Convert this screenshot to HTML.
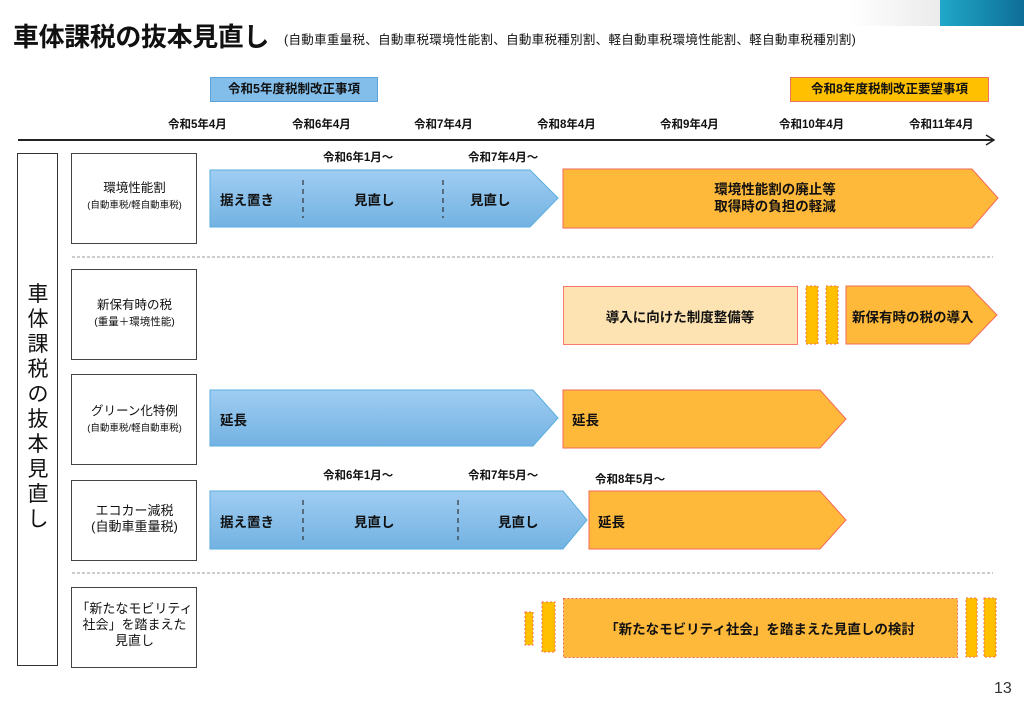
<!DOCTYPE html>
<html><head><meta charset="utf-8"><style>
body{margin:0;width:1024px;height:706px;background:#fff;position:relative;overflow:hidden;font-family:"Liberation Sans","Noto Sans CJK JP",sans-serif;color:#111}
.a{position:absolute;white-space:nowrap}
.b{font-weight:bold}
</style></head><body>
<div class="a" style="left:850px;top:0;width:174px;height:26px;background:linear-gradient(90deg,#fff,#d8d8d8)"></div>
<div class="a" style="left:940px;top:0;width:84px;height:26px;background:linear-gradient(90deg,#20a8c8,#0e6e98)"></div>
<div class="a b" style="left:13px;top:17px;font-size:26px;letter-spacing:-0.4px">車体課税の抜本見直し</div>
<div class="a" style="left:284px;top:29px;font-size:12.5px;letter-spacing:0.3px">(自動車重量税、自動車税環境性能割、自動車税種別割、軽自動車税環境性能割、軽自動車税種別割)</div>
<div class="a b" style="left:210px;top:77px;width:168px;height:25px;background:#83bdea;border:1px solid #5aa4dc;box-sizing:border-box;font-size:12.5px;text-align:center;line-height:23px">令和5年度税制改正事項</div>
<div class="a b" style="left:790px;top:77px;width:199px;height:25px;background:#ffc000;border:1px solid #f07060;box-sizing:border-box;font-size:12.5px;text-align:center;line-height:23px">令和8年度税制改正要望事項</div>
<div class="b" style="font-size:11.5px">
<div class="a" style="left:168px;top:116px">令和5年4月</div>
<div class="a" style="left:292px;top:116px">令和6年4月</div>
<div class="a" style="left:414px;top:116px">令和7年4月</div>
<div class="a" style="left:537px;top:116px">令和8年4月</div>
<div class="a" style="left:660px;top:116px">令和9年4月</div>
<div class="a" style="left:779px;top:116px">令和10年4月</div>
<div class="a" style="left:909px;top:116px">令和11年4月</div>
<div class="a" style="left:323px;top:149px">令和6年1月～</div>
<div class="a" style="left:468px;top:149px">令和7年4月～</div>
<div class="a" style="left:323px;top:467px">令和6年1月～</div>
<div class="a" style="left:468px;top:467px">令和7年5月～</div>
<div class="a" style="left:595px;top:471px">令和8年5月～</div>
</div>
<svg class="a" style="left:0;top:0" width="1024" height="706">
<defs><linearGradient id="g" x1="0" y1="0" x2="0" y2="1"><stop offset="0" stop-color="#a0cdf2"/><stop offset="1" stop-color="#72b2e2"/></linearGradient></defs>
<line x1="18" y1="140" x2="993" y2="140" stroke="#222" stroke-width="2"/>
<polyline points="986,135 994,140 986,145" fill="none" stroke="#222" stroke-width="1.5"/>
<rect x="17.5" y="153.5" width="40" height="512" fill="#fff" stroke="#333"/>
<g fill="#fff" stroke="#444">
<rect x="71.5" y="153.5" width="125" height="90"/>
<rect x="71.5" y="269.5" width="125" height="90"/>
<rect x="71.5" y="374.5" width="125" height="90"/>
<rect x="71.5" y="480.5" width="125" height="80"/>
<rect x="71.5" y="587.5" width="125" height="80"/>
</g>
<g stroke="#999" stroke-dasharray="3,2"><line x1="72" y1="257" x2="993" y2="257"/><line x1="72" y1="573" x2="993" y2="573"/></g>
<g fill="url(#g)" stroke="#5aaee0">
<polygon points="210,170 530,170 558,198 530,227 210,227"/>
<polygon points="210,390 533,390 558,418 533,446 210,446"/>
<polygon points="210,491 563,491 587,520 563,549 210,549"/>
</g>
<g stroke="#333" stroke-dasharray="5,4" stroke-width="1.2">
<line x1="303" y1="180" x2="303" y2="218"/><line x1="443" y1="180" x2="443" y2="218"/>
<line x1="303" y1="500" x2="303" y2="540"/><line x1="458" y1="500" x2="458" y2="540"/>
</g>
<g fill="#ffb93a" stroke="#f26a5a">
<polygon points="563,169 972,169 998,198 972,228 563,228"/>
<polygon points="846,286 969,286 997,315 969,344 846,344"/>
<polygon points="563,390 820,390 846,419 820,448 563,448"/>
<polygon points="589,491 820,491 846,520 820,549 589,549"/>
</g>
<rect x="563.5" y="286.5" width="234" height="58" fill="#fde3b1" stroke="#f87a6a"/>
<g fill="#ffc000" stroke="#f26a5a" stroke-dasharray="2,2">
<rect x="806" y="286" width="12" height="58"/><rect x="826" y="286" width="12" height="58"/>
<rect x="525" y="612" width="8" height="33"/><rect x="542" y="602" width="13" height="50"/>
<rect x="966" y="598" width="11" height="59"/><rect x="984" y="598" width="12" height="59"/>
</g>
<rect x="563.5" y="598.5" width="394" height="59" fill="#ffb93a" stroke="#f26a5a" stroke-dasharray="2,2"/>
</svg>
<div class="a" style="left:27px;top:282px;font-size:21px;line-height:25px;width:22px;white-space:normal;text-align:center">車体課税の抜本見直し</div>
<div style="font-size:12.5px;text-align:center;line-height:16px">
<div class="a" style="left:72px;top:180px;width:125px">環境性能割<br><span style="font-size:9.5px">(自動車税/軽自動車税)</span></div>
<div class="a" style="left:72px;top:297px;width:125px">新保有時の税<br><span style="font-size:10.5px">(重量＋環境性能)</span></div>
<div class="a" style="left:72px;top:403px;width:125px">グリーン化特例<br><span style="font-size:9.5px">(自動車税/軽自動車税)</span></div>
<div class="a" style="left:72px;top:503px;width:125px;font-size:13px">エコカー減税<br>(自動車重量税)</div>
<div class="a" style="left:72px;top:601px;width:125px;font-size:13px">「新たなモビリティ<br>社会」を踏まえた<br>見直し</div>
</div>
<div class="b" style="font-size:13.5px">
<div class="a" style="left:220px;top:189px">据え置き</div>
<div class="a" style="left:354px;top:189px">見直し</div>
<div class="a" style="left:470px;top:189px">見直し</div>
<div class="a" style="left:563px;top:181px;width:424px;text-align:center;line-height:17px">環境性能割の廃止等<br>取得時の負担の軽減</div>
<div class="a" style="left:563px;top:306px;width:234px;text-align:center">導入に向けた制度整備等</div>
<div class="a" style="left:852px;top:306px">新保有時の税の導入</div>
<div class="a" style="left:220px;top:409px">延長</div>
<div class="a" style="left:572px;top:409px">延長</div>
<div class="a" style="left:220px;top:511px">据え置き</div>
<div class="a" style="left:354px;top:511px">見直し</div>
<div class="a" style="left:498px;top:511px">見直し</div>
<div class="a" style="left:598px;top:511px">延長</div>
<div class="a" style="left:563px;top:618px;width:394px;text-align:center">「新たなモビリティ社会」を踏まえた見直しの検討</div>
</div>
<div class="a" style="left:994px;top:680px;font-size:16px;color:#333">13</div>
</body></html>
